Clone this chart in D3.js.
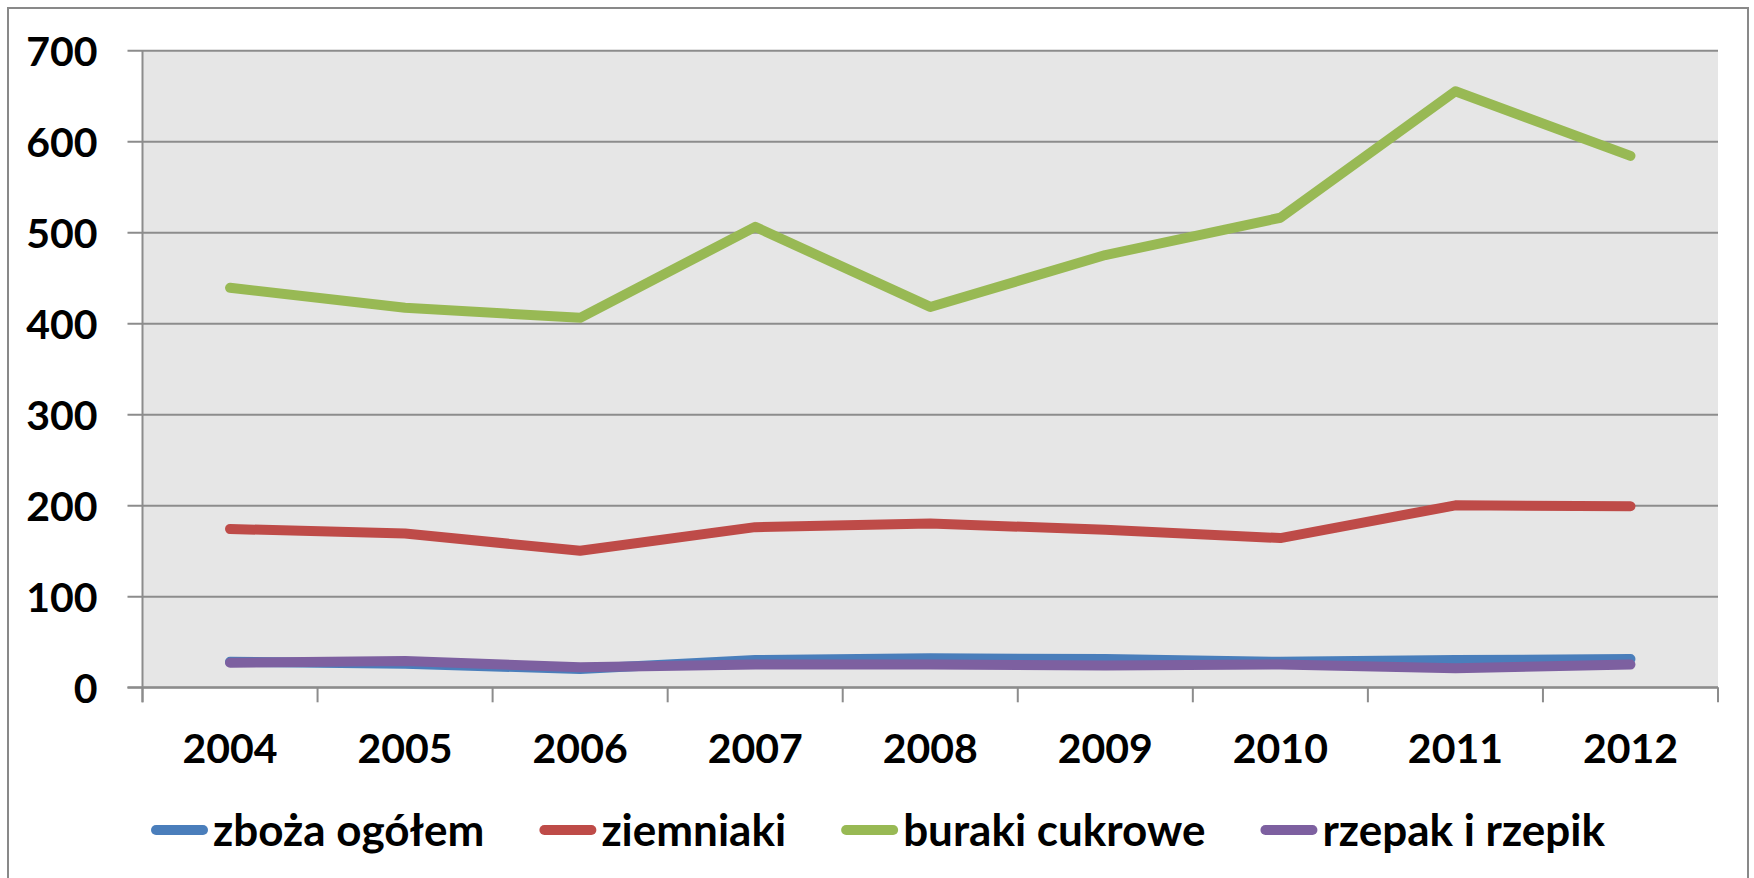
<!DOCTYPE html>
<html>
<head>
<meta charset="utf-8">
<script src="https://cdn.jsdelivr.net/npm/d3@7"></script>
<style>
  body { margin: 0; background: #fff; }
  svg { display: block; font-family: Lato, "Open Sans", sans-serif; font-weight: bold; }
</style>
</head>
<body>
<div id="chart"></div>
<script>
// data
const years = ["2004", "2005", "2006", "2007", "2008", "2009", "2010", "2011", "2012"];
const zboza = [28, 26, 20, 30, 32, 31, 28, 30, 31];
const ziemniaki = [174, 169, 150, 176, 180, 173, 164, 200, 199];
const buraki = [439, 417, 406, 506, 418, 475, 516, 655, 584];
const rzepak = [27, 29, 22, 25, 25, 24, 25, 21, 25];
const yTicks = [0, 100, 200, 300, 400, 500, 600, 700];

const series = [
  { name: "zboża ogółem", values: zboza, color: "#4A7EBB" },
  { name: "ziemniaki", values: ziemniaki, color: "#BE4B48" },
  { name: "buraki cukrowe", values: buraki, color: "#98B954" },
  { name: "rzepak i rzepik", values: rzepak, color: "#7D60A0" }
];

const width = 1754, height = 878;
const plot = { left: 142.5, right: 1718, top: 50.3, bottom: 687.3 };
const gridColor = "#8c8c8c";
const fontSize = 41;
const legendFontSize = 44;

const svg = d3.select("#chart").append("svg")
  .attr("width", width)
  .attr("height", height);

// outer chart border
svg.append("rect")
  .attr("x", 8).attr("y", 8)
  .attr("width", 1740).attr("height", 885)
  .attr("fill", "#fff")
  .attr("stroke", "#898989")
  .attr("stroke-width", 2);

const x = d3.scaleBand().domain(years).range([plot.left, plot.right]);
const y = d3.scaleLinear().domain([0, 700]).range([plot.bottom, plot.top]);
const cx = d => x(d) + x.bandwidth() / 2;

// plot area
svg.append("rect")
  .attr("x", plot.left).attr("y", plot.top)
  .attr("width", plot.right - plot.left)
  .attr("height", plot.bottom - plot.top)
  .attr("fill", "#E6E6E6");

// y axis + gridlines
const yAxis = svg.append("g")
  .attr("transform", `translate(${plot.left},0)`)
  .call(d3.axisLeft(y).tickValues(yTicks).tickSize(-(plot.right - plot.left)).tickPadding(45));
yAxis.select(".domain").remove();
yAxis.selectAll(".tick line")
  .attr("x1", -15)
  .attr("stroke", gridColor)
  .attr("stroke-width", 2);
yAxis.selectAll(".tick text")
  .attr("fill", "#000")
  .attr("dy", "0.36em")
  .style("font-size", fontSize + "px")
  .style("font-family", "Lato, sans-serif")
  .style("font-weight", "bold");

// vertical axis line
svg.append("line")
  .attr("x1", plot.left).attr("x2", plot.left)
  .attr("y1", plot.top).attr("y2", plot.bottom + 15)
  .attr("stroke", gridColor).attr("stroke-width", 2);

// x axis: labels at category centres, ticks on band boundaries
const xAxis = svg.append("g")
  .attr("transform", `translate(0,${plot.bottom})`)
  .call(d3.axisBottom(x).tickSize(0).tickPadding(0));
xAxis.select(".domain").remove();
xAxis.selectAll(".tick text")
  .attr("y", 61)
  .attr("dy", "0.36em")
  .attr("fill", "#000")
  .style("font-size", fontSize + "px")
  .style("font-family", "Lato, sans-serif")
  .style("font-weight", "bold");

svg.append("line")
  .attr("x1", plot.left - 15).attr("x2", plot.right)
  .attr("y1", plot.bottom).attr("y2", plot.bottom)
  .attr("stroke", gridColor).attr("stroke-width", 2);

const bounds = years.map(d => x(d)).concat([plot.right]);
svg.append("g").selectAll("line")
  .data(bounds)
  .join("line")
  .attr("x1", d => d).attr("x2", d => d)
  .attr("y1", plot.bottom).attr("y2", plot.bottom + 15)
  .attr("stroke", gridColor).attr("stroke-width", 2);

// series lines
const line = d3.line()
  .x((v, i) => cx(years[i]))
  .y(v => y(v));

svg.append("g").selectAll("path")
  .data(series)
  .join("path")
  .attr("d", d => line(d.values))
  .attr("fill", "none")
  .attr("stroke", d => d.color)
  .attr("stroke-width", 10)
  .attr("stroke-linecap", "round")
  .attr("stroke-linejoin", "round");

// legend, centred under the chart
const legend = svg.append("g");
const items = legend.selectAll("g")
  .data(series)
  .join("g");
items.append("line")
  .attr("x1", 5).attr("x2", 52)
  .attr("y1", 0).attr("y2", 0)
  .attr("stroke", d => d.color)
  .attr("stroke-width", 10)
  .attr("stroke-linecap", "round");
items.append("text")
  .attr("x", 62)
  .attr("dy", "0.36em")
  .style("font-size", legendFontSize + "px")
  .text(d => d.name);

let pos = 0;
items.each(function () {
  const w = d3.select(this).select("text").node().getComputedTextLength();
  d3.select(this).attr("transform", `translate(${pos},830)`);
  pos += 62 + w + 55;
});
const total = pos - 55;
legend.attr("transform", `translate(${878 - total / 2},0)`);
</script>
</body>
</html>
